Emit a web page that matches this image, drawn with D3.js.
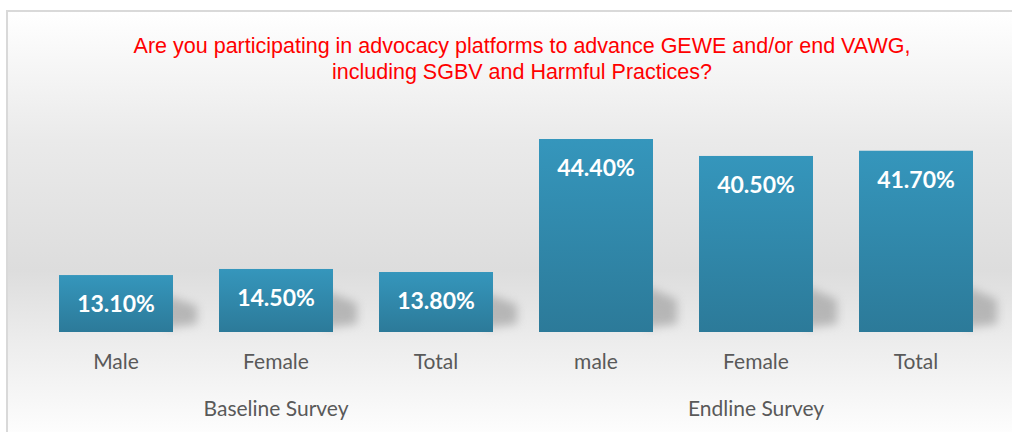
<!DOCTYPE html>
<html>
<head>
<meta charset="utf-8">
<script src="https://cdn.jsdelivr.net/npm/d3@7"></script>
<style>
  html, body { margin: 0; padding: 0; background: #fff; }
  svg { display: block; }
</style>
</head>
<body>
<div id="chart"></div>
<script>
// chart data
const categories = ["Male", "Female", "Total", "male", "Female", "Total"];
const values = [13.1, 14.5, 13.8, 44.4, 40.5, 41.7];
const valueLabels = ["13.10%", "14.50%", "13.80%", "44.40%", "40.50%", "41.70%"];
const groups = ["Baseline Survey", "Endline Survey"];
const groupOf = [0, 0, 0, 1, 1, 1];
const titleLines = [
  "Are you participating in advocacy platforms to advance GEWE and/or end VAWG,",
  "including SGBV and Harmful Practices?"
];

const width = 1012;
const height = 432;
const baseline = 332;

const svg = d3.select("#chart")
  .append("svg")
  .attr("width", width)
  .attr("height", height)
  .attr("viewBox", [0, 0, width, height]);

const defs = svg.append("defs");

// chart area background gradient
const bg = defs.append("linearGradient")
  .attr("id", "bg")
  .attr("x1", 0).attr("y1", 0).attr("x2", 0).attr("y2", 1);
[
  [0, "#ffffff"], [0.3, "#eaeaea"], [0.6, "#dddddd"],
  [0.76, "#ececec"], [0.9, "#f7f7f7"], [1, "#ffffff"]
].forEach(([o, c]) => bg.append("stop").attr("offset", o).attr("stop-color", c));

// bar fill gradient
const barGrad = defs.append("linearGradient")
  .attr("id", "barGrad")
  .attr("x1", 0).attr("y1", 0).attr("x2", 0).attr("y2", 1);
barGrad.append("stop").attr("offset", 0).attr("stop-color", "#3596bc");
barGrad.append("stop").attr("offset", 1).attr("stop-color", "#2c7a99");

defs.append("filter")
  .attr("id", "blur")
  .attr("x", "-50%").attr("y", "-50%").attr("width", "200%").attr("height", "200%")
  .append("feGaussianBlur")
  .attr("stdDeviation", 5);

// background + border
svg.append("rect")
  .attr("x", 7).attr("y", 11)
  .attr("width", width).attr("height", height)
  .attr("fill", "url(#bg)");
svg.append("path")
  .attr("d", `M7,${height} V11 H${width}`)
  .attr("fill", "none")
  .attr("stroke", "#d9d9d9")
  .attr("stroke-width", 2);

// title
svg.append("text")
  .attr("x", 522)
  .attr("y", 53)
  .attr("text-anchor", "middle")
  .attr("fill", "#ff0000")
  .style("font-family", "'Liberation Sans', Arial, sans-serif")
  .style("font-size", "21.5px")
  .selectAll("tspan")
  .data(titleLines)
  .join("tspan")
  .attr("x", 522)
  .attr("dy", (d, i) => (i === 0 ? 0 : 26))
  .text((d) => d);

// scales
const idx = d3.range(categories.length);
const x = d3.scaleBand(idx, [36, 996]).paddingInner(0.2875).paddingOuter(0.14375);
const y = d3.scaleLinear([0, 44.4], [baseline, baseline - 193]);

// shadows behind bars
svg.append("g")
  .selectAll("path")
  .data(idx)
  .join("path")
  .attr("filter", "url(#blur)")
  .attr("fill", "#8f8f8f")
  .attr("opacity", 0.55)
  .attr("d", (i) => {
    const r = x(i) + x.bandwidth();
    const s = Math.min(46, (baseline - y(values[i])) * 0.65);
    return `M${r - 8},${baseline - s} L${r + 24},${baseline - s * 0.7} L${r + 24},${baseline - 8} L${r - 8},${baseline - 4} Z`;
  });

// bars
svg.append("g")
  .selectAll("rect")
  .data(idx)
  .join("rect")
  .attr("x", (i) => x(i))
  .attr("y", (i) => y(values[i]))
  .attr("width", x.bandwidth())
  .attr("height", (i) => y(0) - y(values[i]))
  .attr("fill", "url(#barGrad)");

// value labels
svg.append("g")
  .selectAll("text")
  .data(idx)
  .join("text")
  .attr("x", (i) => x(i) + x.bandwidth() / 2)
  .attr("y", (i) => y(values[i]) + 37)
  .attr("text-anchor", "middle")
  .attr("fill", "#ffffff")
  .style("font-family", "Lato, 'Open Sans', sans-serif")
  .style("font-weight", "bold")
  .style("font-size", "23px")
  .text((i) => valueLabels[i]);

// category labels
svg.append("g")
  .selectAll("text")
  .data(idx)
  .join("text")
  .attr("x", (i) => x(i) + x.bandwidth() / 2)
  .attr("y", 369)
  .attr("text-anchor", "middle")
  .attr("fill", "#595959")
  .style("font-family", "Lato, 'Open Sans', sans-serif")
  .style("font-size", "21px")
  .text((i) => categories[i]);

// group labels, centred under the middle bar of each group
svg.append("g")
  .selectAll("text")
  .data(groups)
  .join("text")
  .attr("x", (g, gi) => {
    const members = idx.filter((i) => groupOf[i] === gi);
    const c = members.map((i) => x(i) + x.bandwidth() / 2);
    return d3.mean(c);
  })
  .attr("y", 416)
  .attr("text-anchor", "middle")
  .attr("fill", "#595959")
  .style("font-family", "Lato, 'Open Sans', sans-serif")
  .style("font-size", "21px")
  .text((g) => g);
</script>
</body>
</html>
